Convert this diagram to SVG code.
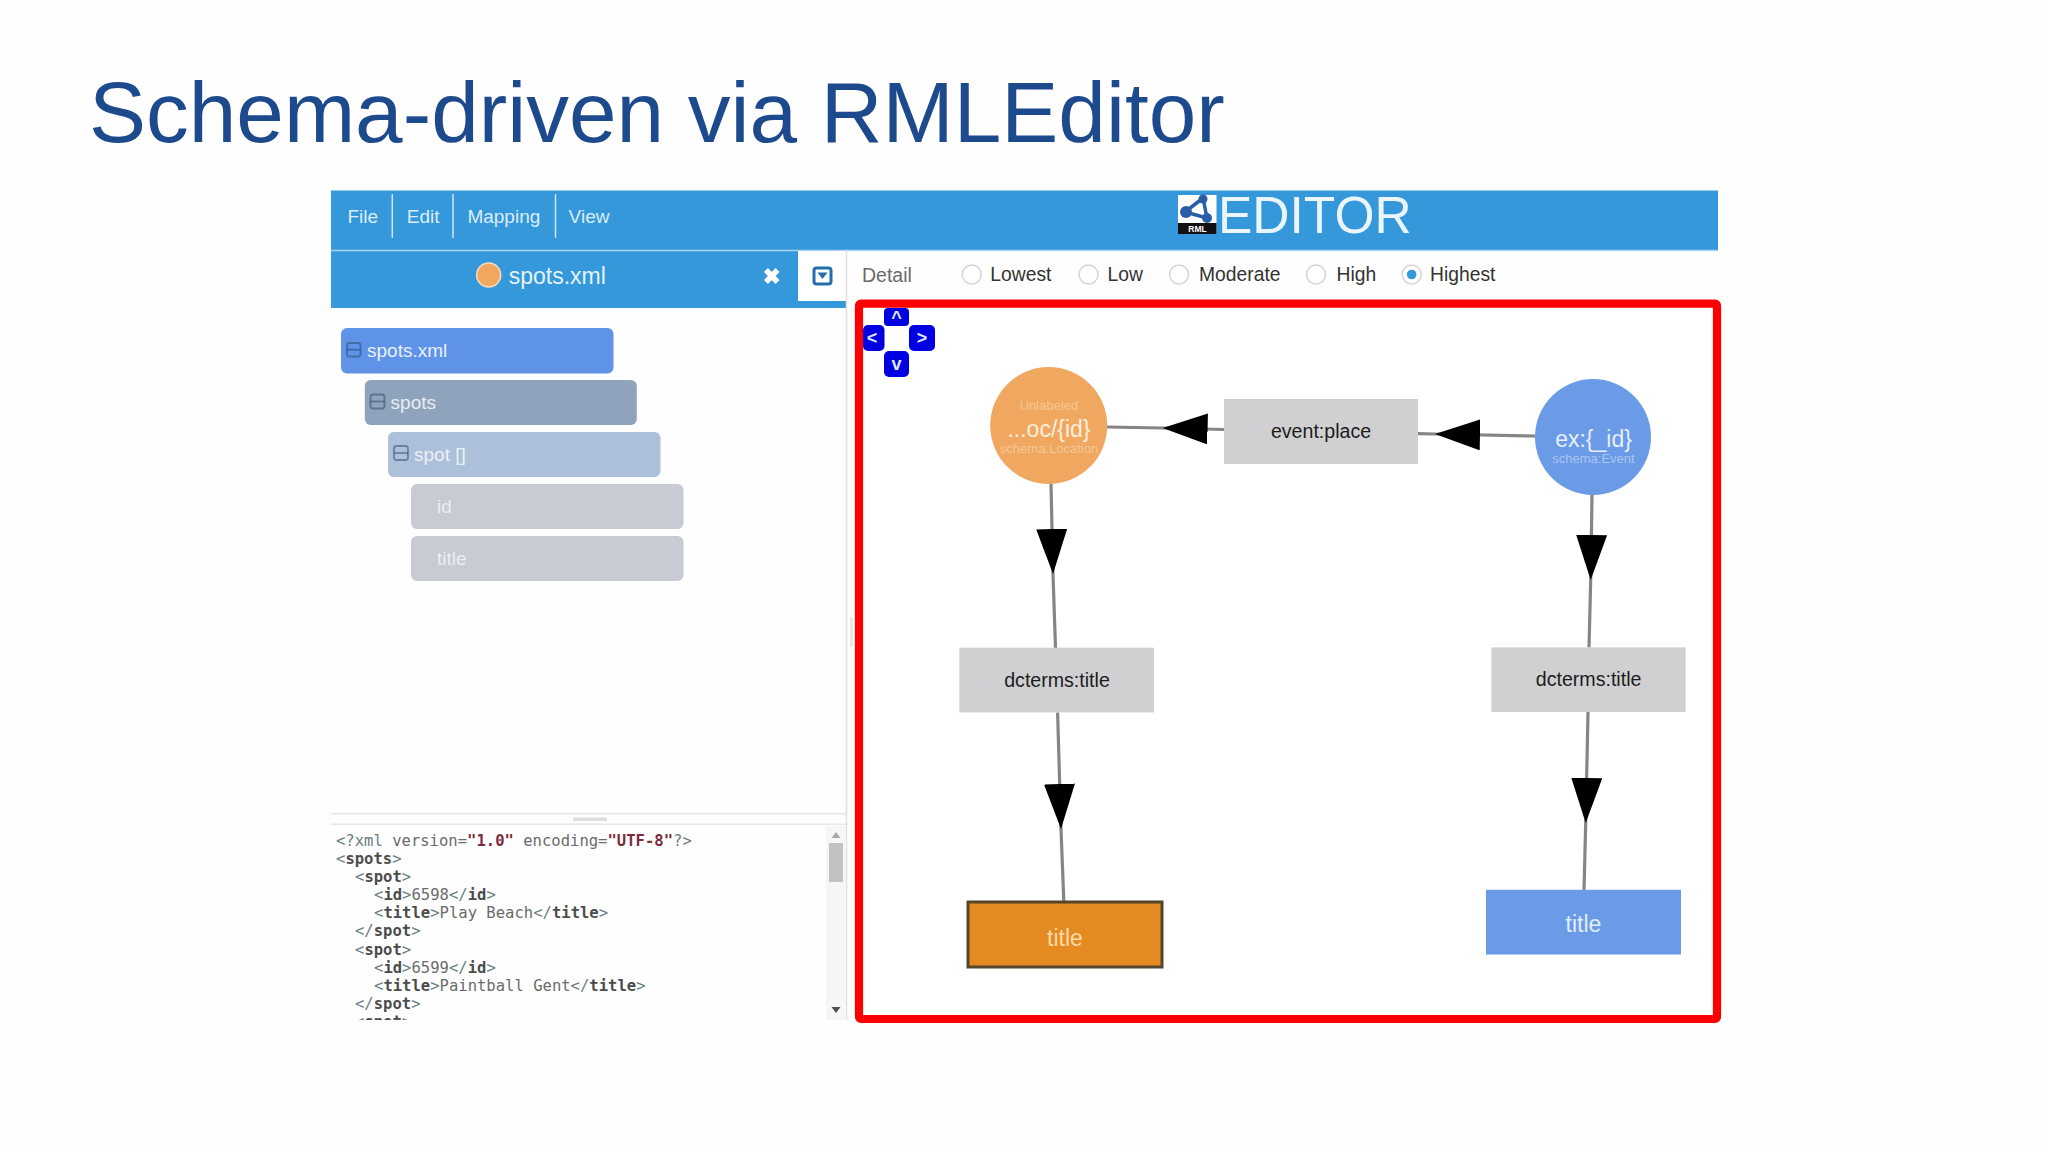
<svg xmlns="http://www.w3.org/2000/svg" width="2048" height="1152" viewBox="0 0 2048 1152">
<style>
text{font-family:"Liberation Sans",Arial,sans-serif}
.menu{font-size:19px;fill:#dcedfa}
.sep{stroke:#cfe6f7;stroke-width:1.5}
.tree{font-size:19px}
.box{fill:none;stroke-width:1.8;stroke-opacity:.5;stroke:#2c4468}
.det{font-size:19.3px;fill:#333}
.rad{fill:#fff;stroke:#d4d4d4;stroke-width:1.5}
.xml{font-family:"DejaVu Sans Mono","Liberation Mono",monospace;font-size:15.55px;fill:#6b6b6b}
.xml .t{font-weight:bold;fill:#4c4c4c}
.xml .b{fill:#6a7f80}
.xml .s{fill:#7d2c3c;font-weight:bold}
.nav{fill:#0000e0}
.navt{font-size:18px;font-weight:bold;fill:#dfe6ff;text-anchor:middle}
.lbl{fill:#d0d0d2}
.lblt{font-size:19.6px;fill:#1c1c1c;text-anchor:middle}
.edge{fill:none;stroke:#858585;stroke-width:3.2;marker-mid:url(#head)}
.big{font-size:23px;text-anchor:middle}
.small{font-size:13px;text-anchor:middle}
</style>
<defs>
<marker id="head" markerUnits="userSpaceOnUse" viewBox="0 0 45 31" markerWidth="45" markerHeight="31" refX="45" refY="15.5" orient="auto">
<polygon points="0,0 45,15.5 0,31" fill="#000"/>
</marker>
<clipPath id="srcclip"><rect x="331" y="825" width="495" height="195"/></clipPath>
</defs>
<rect width="2048" height="1152" fill="#fefefe"/>
<text x="89" y="142" font-size="85.5" fill="#1d4a8c">Schema-driven via RMLEditor</text>

<g id="menubar">
<rect x="331" y="190.500" width="1387" height="59.500" fill="#3498db"/>
<line class="sep" x1="392.300" y1="194" x2="392.300" y2="238"/>
<line class="sep" x1="453" y1="194" x2="453" y2="238"/>
<line class="sep" x1="555.500" y1="194" x2="555.500" y2="238"/>
<text class="menu" x="347.500" y="223">File</text>
<text class="menu" x="406.800" y="223">Edit</text>
<text class="menu" x="467.400" y="223">Mapping</text>
<text class="menu" x="568.600" y="223">View</text>
<g id="logo">
<rect x="1178" y="195" width="38.500" height="39" fill="#fff"/>
<rect x="1178" y="223" width="38.500" height="11" fill="#111"/>
<path d="M1203 198L1185 212L1207 218Z" fill="none" stroke="#2a5ca8" stroke-width="3.500"/>
<circle cx="1203" cy="199" r="4.500" fill="#2a5ca8"/>
<circle cx="1186" cy="212" r="6" fill="#2a5ca8"/>
<circle cx="1207" cy="218" r="5" fill="#2a5ca8"/>
<text x="1197.500" y="232" font-size="8.500" font-weight="bold" fill="#fff" text-anchor="middle">RML</text>
</g>
<text x="1218" y="233" font-size="51.5" fill="#eaf5fd">EDITOR</text>
</g>

<g id="tabbar">
<rect x="331" y="250" width="515" height="58" fill="#3498db"/>
<line x1="331" y1="250.500" x2="1718" y2="250.500" stroke="#a9d3f0" stroke-width="1.500"/>
<rect x="798" y="251" width="48" height="50" fill="#fff"/>
<circle cx="488.700" cy="275" r="12" fill="#f0a860" stroke="#f6dcc0" stroke-width="1.500"/>
<text x="508.700" y="283.500" font-size="23" fill="#e6f3fc">spots.xml</text>
<path d="M766 270L777.500 282M777.500 270L766 282" stroke="#fff" stroke-width="5.500" fill="none"/>
<rect x="814" y="268" width="17" height="16" rx="2.500" fill="none" stroke="#2170ab" stroke-width="3"/>
<polygon points="817.500,272.500 827.500,272.500 822.500,279" fill="#2170ab"/>
</g>

<g id="tree">
<g id="tree-spots-xml"><rect x="341" y="328" width="272.500" height="45.500" rx="6" fill="#5e93e8"/><rect class="box" x="347" y="343" width="13.500" height="13.500" rx="2.500"/><line class="box" x1="347" y1="349.700" x2="360.500" y2="349.700"/><text class="tree" x="367" y="357" fill="#e8f0fc">spots.xml</text></g>
<g id="tree-spots"><rect x="364.800" y="380" width="272" height="45" rx="6" fill="#8fa3bc"/><rect class="box" x="370.500" y="394.500" width="14" height="14" rx="2.500"/><line class="box" x1="370.500" y1="401.500" x2="384.500" y2="401.500"/><text class="tree" x="390.600" y="409" fill="#e8edf3">spots</text></g>
<g id="tree-spot"><rect x="388" y="432" width="272.500" height="45" rx="6" fill="#acc0da"/><rect class="box" x="394" y="446" width="14" height="14" rx="2.500"/><line class="box" x1="394" y1="453" x2="408" y2="453"/><text class="tree" x="414" y="461" fill="#ebf0f7">spot []</text></g>
<g id="tree-id"><rect x="411" y="484" width="272.500" height="45" rx="6" fill="#c8cad4"/><text class="tree" x="437" y="512.500" fill="#ecedf1">id</text></g>
<g id="tree-title"><rect x="411" y="536" width="272.500" height="45" rx="6" fill="#c8cad4"/><text class="tree" x="437" y="564.500" fill="#ecedf1">title</text></g>
</g>

<g id="source">
<rect x="331" y="813" width="515" height="1.500" fill="#e6e6e8"/>
<rect x="331" y="823.500" width="515" height="1.500" fill="#e6e6e8"/>
<rect x="573" y="817.500" width="34" height="3.500" fill="#dedede"/>
<line x1="846.500" y1="250" x2="846.500" y2="1020" stroke="#e3dfe3" stroke-width="1.500"/>
<rect x="850" y="617" width="3" height="30" fill="#e8e8e8"/>
<g clip-path="url(#srcclip)">
<text class="xml" x="336" y="845.500"><tspan class="b">&lt;?xml</tspan> version=<tspan class="s">"1.0"</tspan> encoding=<tspan class="s">"UTF-8"</tspan><tspan class="b">?&gt;</tspan></text>
<text class="xml" x="336" y="863.500"><tspan class="b">&lt;</tspan><tspan class="t">spots</tspan><tspan class="b">&gt;</tspan></text>
<text class="xml" x="355" y="881.500"><tspan class="b">&lt;</tspan><tspan class="t">spot</tspan><tspan class="b">&gt;</tspan></text>
<text class="xml" x="374" y="900"><tspan class="b">&lt;</tspan><tspan class="t">id</tspan><tspan class="b">&gt;</tspan>6598<tspan class="b">&lt;/</tspan><tspan class="t">id</tspan><tspan class="b">&gt;</tspan></text>
<text class="xml" x="374" y="918"><tspan class="b">&lt;</tspan><tspan class="t">title</tspan><tspan class="b">&gt;</tspan>Play Beach<tspan class="b">&lt;/</tspan><tspan class="t">title</tspan><tspan class="b">&gt;</tspan></text>
<text class="xml" x="355" y="936"><tspan class="b">&lt;/</tspan><tspan class="t">spot</tspan><tspan class="b">&gt;</tspan></text>
<text class="xml" x="355" y="954.500"><tspan class="b">&lt;</tspan><tspan class="t">spot</tspan><tspan class="b">&gt;</tspan></text>
<text class="xml" x="374" y="972.500"><tspan class="b">&lt;</tspan><tspan class="t">id</tspan><tspan class="b">&gt;</tspan>6599<tspan class="b">&lt;/</tspan><tspan class="t">id</tspan><tspan class="b">&gt;</tspan></text>
<text class="xml" x="374" y="990.500"><tspan class="b">&lt;</tspan><tspan class="t">title</tspan><tspan class="b">&gt;</tspan>Paintball Gent<tspan class="b">&lt;/</tspan><tspan class="t">title</tspan><tspan class="b">&gt;</tspan></text>
<text class="xml" x="355" y="1008.500"><tspan class="b">&lt;/</tspan><tspan class="t">spot</tspan><tspan class="b">&gt;</tspan></text>
<text class="xml" x="355" y="1026.500"><tspan class="b">&lt;</tspan><tspan class="t">spot</tspan><tspan class="b">&gt;</tspan></text>
</g>
<rect x="826" y="826" width="20" height="194" fill="#f6f6f6"/>
<rect x="829" y="843" width="14" height="39" fill="#c2c2c2"/>
<polygon points="836,832 840.500,838 831.500,838" fill="#a8a8a8"/>
<polygon points="831.500,1007 840.500,1007 836,1013" fill="#505050"/>
</g>

<g id="detail">
<text x="862" y="282" font-size="19.5" fill="#6a6a6a">Detail</text>
<circle class="rad" cx="971.800" cy="274.500" r="9.500"/><text class="det" x="990.300" y="281">Lowest</text>
<circle class="rad" cx="1088.500" cy="274.500" r="9.500"/><text class="det" x="1107.600" y="281">Low</text>
<circle class="rad" cx="1179" cy="274.500" r="9.500"/><text class="det" x="1199" y="281">Moderate</text>
<circle class="rad" cx="1316" cy="274.500" r="9.500"/><text class="det" x="1336.500" y="281">High</text>
<circle class="rad" cx="1411.700" cy="274.500" r="9.500"/><circle cx="1411.700" cy="274.500" r="4.800" fill="#3498db"/><text class="det" x="1430" y="281">Highest</text>
</g>

<rect id="frame" x="859" y="303.600" width="858" height="715.400" rx="2" fill="#fff" stroke="#fe0000" stroke-width="8.200"/>

<g id="pan">
<rect class="nav" x="884" y="308" width="25" height="18" rx="4"/><text class="navt" x="896.500" y="324">^</text>
<rect class="nav" x="863" y="325" width="21.500" height="26" rx="5"/><text class="navt" x="872" y="344">&lt;</text>
<rect class="nav" x="909" y="325" width="26" height="26" rx="5"/><text class="navt" x="922" y="344">&gt;</text>
<rect class="nav" x="884" y="351" width="25" height="26" rx="5"/><text class="navt" x="896.500" y="370">v</text>
</g>

<g id="connectors">
<path class="edge" d="M1224 429.500L1162.600 428L1107 427"/>
<path class="edge" d="M1535 436L1435 434L1418 433.700"/>
<path class="edge" d="M1051 484L1053 574L1055.500 648"/>
<path class="edge" d="M1057.600 712.500L1061 829L1063.800 901"/>
<path class="edge" d="M1592 495L1590.700 580L1589 647.500"/>
<path class="edge" d="M1588 712L1585.700 823L1584 890"/>
</g>

<g id="node-oc">
<circle cx="1048.700" cy="425.500" r="58.500" fill="#f0a860"/>
<text class="small" x="1049" y="410" fill="#f6c795">Unlabeled</text>
<text class="big" x="1049" y="437" fill="#fdeede">...oc/{id}</text>
<text class="small" x="1049" y="453" fill="#f6c795">schema:Location</text>
</g>
<g id="node-ex">
<circle cx="1593" cy="437" r="58" fill="#6b9be6"/>
<text class="big" x="1593.500" y="447" fill="#e6effd">ex:{_id}</text>
<text class="small" x="1593.500" y="463" fill="#a9c6f2">schema:Event</text>
</g>
<g id="node-place"><rect class="lbl" x="1224" y="399" width="194" height="65"/><text class="lblt" x="1321" y="438">event:place</text></g>
<g id="node-dcterms-left"><rect class="lbl" x="959.400" y="647.700" width="194.600" height="64.700"/><text class="lblt" x="1057" y="687.300">dcterms:title</text></g>
<g id="node-dcterms-right"><rect class="lbl" x="1491.400" y="647.400" width="194.200" height="64.600"/><text class="lblt" x="1588.600" y="686.300">dcterms:title</text></g>
<g id="node-title-left"><rect x="968" y="902" width="194" height="65" fill="#e58a20" stroke="#55452a" stroke-width="3"/><text class="big" x="1065" y="945.700" fill="#fbdca8">title</text></g>
<g id="node-title-right"><rect x="1486" y="889.800" width="195" height="64.700" fill="#6b9be6"/><text class="big" x="1583.500" y="932" fill="#e2edff">title</text></g>
</svg>
